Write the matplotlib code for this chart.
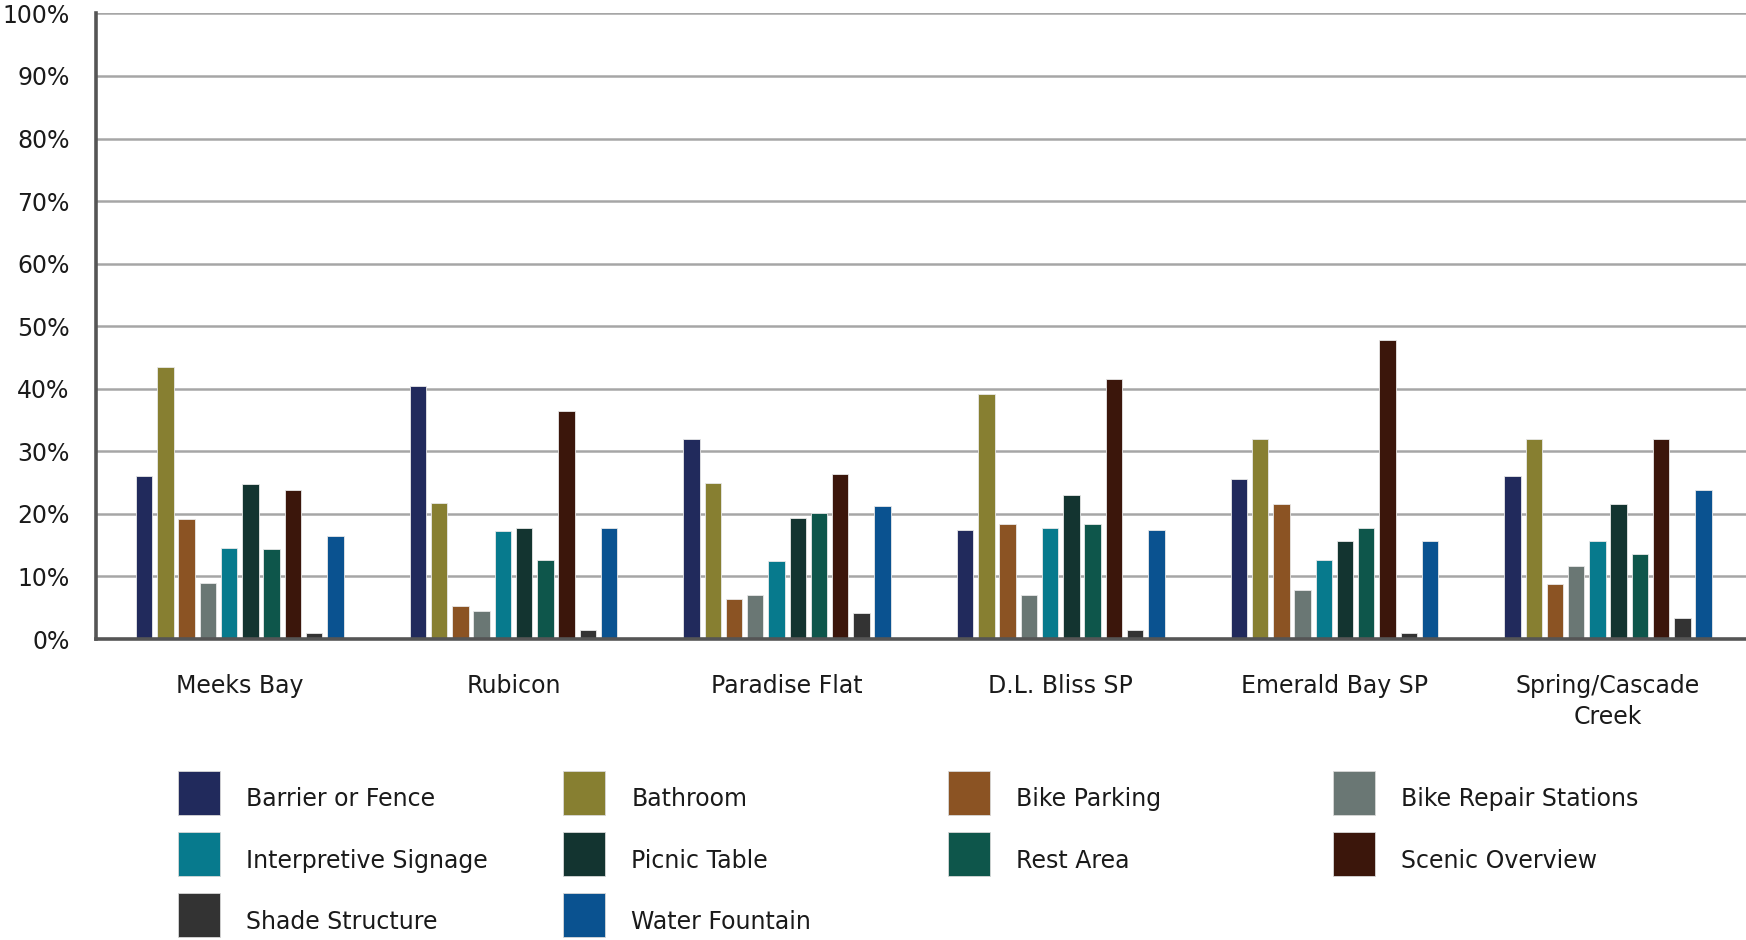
import numpy as np
import matplotlib.pyplot as plt
from matplotlib.patches import Rectangle

plt.rcParams['font.family'] = ['DejaVu Sans']

# Sites (x categories)
sites = ['Meeks Bay', 'Rubicon', 'Paradise Flat', 'D.L. Bliss SP',
         'Emerald Bay SP', 'Spring/Cascade\nCreek']

# Amenity series (% of respondents)
amenities = ['Barrier or Fence', 'Bathroom', 'Bike Parking', 'Bike Repair Stations',
             'Interpretive Signage', 'Picnic Table', 'Rest Area', 'Scenic Overview',
             'Shade Structure', 'Water Fountain']
colors = ['#212a5c', '#877f31', '#8b5323', '#6a7774', '#077a8d',
          '#133430', '#0e564b', '#3b160b', '#333333', '#0a5290']

barrier = [26.1, 40.4, 31.9, 17.5, 25.6, 26.1]
bathroom = [43.5, 21.8, 25.0, 39.2, 31.9, 31.9]
bike_parking = [19.2, 5.3, 6.4, 18.4, 21.6, 8.8]
bike_repair = [9.0, 4.5, 7.0, 7.0, 7.9, 11.6]
interpretive = [14.5, 17.3, 12.4, 17.8, 12.7, 15.6]
picnic = [24.8, 17.8, 19.3, 23.0, 15.6, 21.6]
rest_area = [14.4, 12.7, 20.1, 18.4, 17.8, 13.6]
scenic = [23.8, 36.4, 26.4, 41.5, 47.8, 31.9]
shade = [1.0, 1.4, 4.1, 1.4, 1.0, 3.3]
water = [16.4, 17.8, 21.2, 17.5, 15.6, 23.8]

series = [barrier, bathroom, bike_parking, bike_repair, interpretive,
          picnic, rest_area, scenic, shade, water]

yticks = list(range(0, 101, 10))
text_color = '#1a1a1a'
fs = 17

fig = plt.figure(figsize=(17.46, 9.40), dpi=100)
ax = fig.add_axes([0.0549, 0.3202, 0.9451, 0.6655])

x = np.arange(len(sites))
pitch = 0.0776
width = 0.06
for i, (vals, c) in enumerate(zip(series, colors)):
    ax.bar(x + (i - 4.5) * pitch, vals, width=width, color=c,
           edgecolor='#e8e8e8', linewidth=0.6, zorder=3)

ax.set_xlim(-0.526, len(sites) - 1 + 0.504)
ax.set_ylim(0, 100)
ax.set_yticks(yticks)
ax.set_yticklabels([f'{v}%' for v in yticks], fontsize=fs, color=text_color)
ax.set_xticks(x)
ax.set_xticklabels(sites, fontsize=fs, color=text_color, linespacing=1.4)
ax.tick_params(axis='both', length=0)
ax.tick_params(axis='y', pad=19)
ax.tick_params(axis='x', pad=25)

ax.grid(axis='y', color='#a6a6a6', linewidth=1.8, zorder=0)
ax.set_axisbelow(True)
for s in ['top', 'right']:
    ax.spines[s].set_visible(False)
for s in ['left', 'bottom']:
    ax.spines[s].set_color('#555555')
    ax.spines[s].set_linewidth(2.6)
    ax.spines[s].set_zorder(4)

# Legend laid out row by row, 4 per row
x0, col_pitch = 0.102, 0.2205
row_y = [0.1566, 0.0915, 0.0266]
sw_w, sw_h = 0.024, 0.0468
for i, (name, c) in enumerate(zip(amenities, colors)):
    r, col = divmod(i, 4)
    lx = x0 + col * col_pitch
    fig.patches.append(Rectangle((lx, row_y[r] - sw_h / 2), sw_w, sw_h,
                                 transform=fig.transFigure, facecolor=c,
                                 edgecolor='#d8d8d8', linewidth=0.6))
    fig.text(lx + 0.039, row_y[r] - 0.007, name, fontsize=fs,
             color=text_color, va='center', ha='left')

fig.savefig('out.png', dpi=100)
